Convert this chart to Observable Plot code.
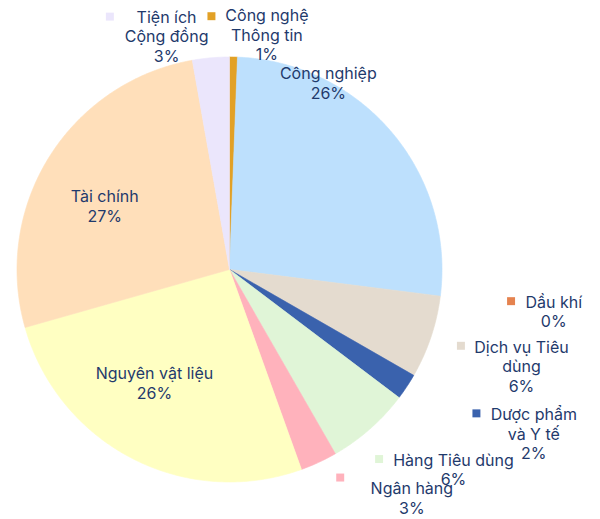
<!DOCTYPE html>
<html>
<head>
<meta charset="utf-8">
<script src="https://cdn.jsdelivr.net/npm/d3@7"></script>
<script src="https://cdn.jsdelivr.net/npm/@observablehq/plot@0.6"></script>
<style>
  html, body { margin: 0; padding: 0; background: #ffffff; }
  #chart { width: 600px; height: 519px; }
</style>
</head>
<body>
<div id="chart"></div>
<script>
// ---- data ----
const categories = [
  "Công nghệ Thông tin", "Công nghiệp", "Dầu khí", "Dịch vụ Tiêu dùng",
  "Dược phẩm và Y tế", "Hàng Tiêu dùng", "Ngân hàng", "Nguyên vật liệu",
  "Tài chính", "Tiện ích Cộng đồng"
];
const values = [0.6, 26.4, 0.0, 6.3, 2.0, 6.4, 2.8, 26.1, 26.6, 2.8];
const wrappedNames = [
  "Công nghệ\nThông tin", "Công nghiệp", "Dầu khí", "Dịch vụ Tiêu\ndùng",
  "Dược phẩm\nvà Y tế", "Hàng Tiêu dùng", "Ngân hàng", "Nguyên vật liệu",
  "Tài chính", "Tiện ích\nCộng đồng"
];

// ---- styles ----
const colors = [
  "#e2a126", "#bde0fd", "#e5834f", "#e4dbcf", "#3a62ad",
  "#e0f5d7", "#ffb2bc", "#ffffc2", "#ffdfba", "#ebe6fc"
];
const textColor = "#1f3a6c";

// ---- layout (unit-circle coordinates; pie radius = 1) ----
const labelLayout = {
  "Công nghệ Thông tin": {x: 0.176, y: 1.106, kx: -0.085, ky: 1.192},
  "Công nghiệp":         {x: 0.465, y: 0.880},
  "Dầu khí":             {x: 1.526, y: -0.197, kx: 1.325, ky: -0.149},
  "Dịch vụ Tiêu dùng":   {x: 1.374, y: -0.455, kx: 1.089, ky: -0.359},
  "Dược phẩm và Y tế":   {x: 1.432, y: -0.772, kx: 1.162, ky: -0.677},
  "Hàng Tiêu dùng":      {x: 1.054, y: -0.941, kx: 0.704, ky: -0.892},
  "Ngân hàng":           {x: 0.858, y: -1.073, kx: 0.521, ky: -0.979},
  "Nguyên vật liệu":     {x: -0.353, y: -0.533},
  "Tài chính":           {x: -0.587, y: 0.300},
  "Tiện ích Cộng đồng":  {x: -0.296, y: 1.099, kx: -0.563, ky: 1.190}
};
const W = 600, H = 519, CX = 229, CY = 269, R = 212.5;

// ---- build slices ----
const rows = categories.map((c, i) => ({name: c, value: values[i], label: wrappedNames[i]}));
const arcs = d3.pie().value(d => d.value).sort(null).startAngle(0).endAngle(2 * Math.PI)(rows);
const slicePts = [];
arcs.forEach(a => {
  if (a.endAngle - a.startAngle <= 0) return;
  const name = a.data.name;
  slicePts.push({name, x: 0, y: 0});
  const n = Math.max(2, Math.ceil((a.endAngle - a.startAngle) / 0.01));
  for (let k = 0; k <= n; k++) {
    const t = a.startAngle + (a.endAngle - a.startAngle) * k / n;
    slicePts.push({name, x: Math.sin(t), y: Math.cos(t)});
  }
  slicePts.push({name, x: 0, y: 0});
});

const labels = rows.map(r => ({
  name: r.name,
  text: r.label + "\n" + Math.round(r.value) + "%",
  x: labelLayout[r.name].x,
  y: labelLayout[r.name].y
}));
const keys = rows.filter(r => labelLayout[r.name].kx !== undefined).map(r => ({
  name: r.name, x: labelLayout[r.name].kx, y: labelLayout[r.name].ky
}));

const chart = Plot.plot({
  width: W,
  height: H,
  margin: 0,
  style: {background: "#ffffff", fontFamily: "Inter, 'Noto Sans', sans-serif"},
  x: {domain: [-CX / R, (W - CX) / R], axis: null},
  y: {domain: [-(H - CY) / R, CY / R], axis: null},
  color: {type: "ordinal", domain: categories, range: colors},
  marks: [
    Plot.line(slicePts, {x: "x", y: "y", z: "name", fill: "name", stroke: "name", strokeWidth: 0.6, curve: "linear-closed"}),
    Plot.dot(keys, {x: "x", y: "y", fill: "name", symbol: "square", r: 4.5, stroke: null}),
    Plot.text(labels, {x: "x", y: "y", text: "text", fill: textColor, fontSize: 16, lineHeight: 1.22, textAnchor: "middle", lineAnchor: "middle"})
  ]
});
document.getElementById("chart").appendChild(chart);
</script>
</body>
</html>
